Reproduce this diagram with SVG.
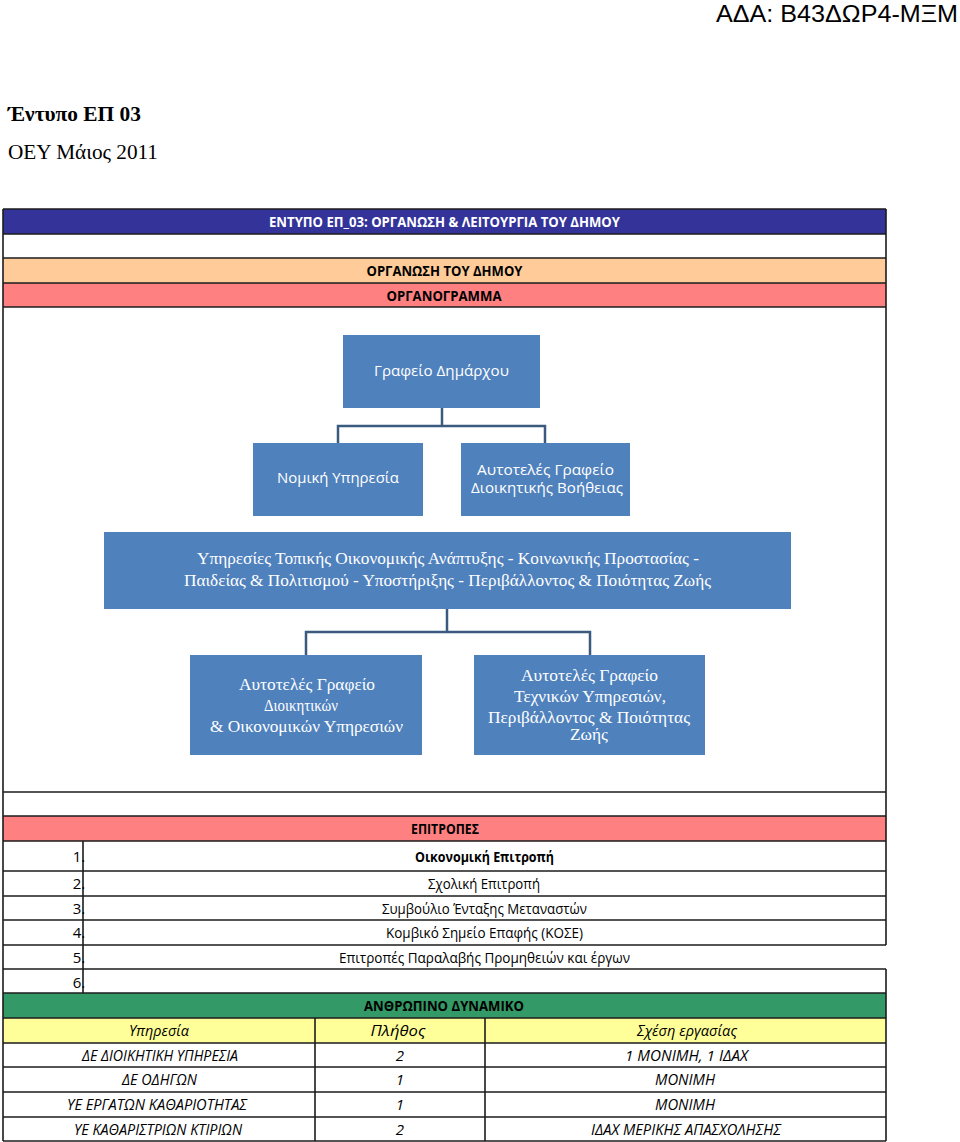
<svg xmlns="http://www.w3.org/2000/svg" width="960" height="1142" viewBox="0 0 960 1142">
<style>
.bg{fill:#ffffff}
.ln{stroke:#1c1c1c;stroke-width:1.6;fill:none}
.box{fill:#4f81bd}
.conn{stroke:#3a5a80;stroke-width:2.5;fill:none}
.ts{font-family:"Open Sans","Noto Sans","DejaVu Sans",sans-serif;font-size:15px;fill:#000;text-anchor:middle}
.tb{font-weight:bold}
.ti{font-style:italic}
.tw{fill:#ffffff}
.bs{font-family:"Open Sans","Noto Sans",sans-serif;font-size:15px;fill:#ffffff;text-anchor:middle}
.bsr{font-family:"Liberation Serif","DejaVu Serif",serif;font-size:16px;fill:#ffffff;text-anchor:middle}
.hd{font-family:"Liberation Serif","DejaVu Serif",serif;font-size:20px;fill:#000}
</style>
<rect class="bg" x="0" y="0" width="960" height="1142"/>

<!-- page headings -->
<g id="heading">
<text x="958" y="22" text-anchor="end" font-family="'Liberation Sans',Arial,sans-serif" font-size="24" fill="#000" textLength="242" lengthAdjust="spacingAndGlyphs">ΑΔΑ: Β43ΔΩΡ4-ΜΞΜ</text>
<text class="hd" x="8" y="121" font-weight="bold" textLength="133" lengthAdjust="spacingAndGlyphs">Έντυπο ΕΠ 03</text>
<text class="hd" x="8" y="159" textLength="150" lengthAdjust="spacingAndGlyphs">ΟΕΥ Μάιος 2011</text>
</g>

<!-- table bands -->
<g id="table">
<rect x="3" y="209" width="883" height="25" fill="#333399"/>
<rect x="3" y="258" width="883" height="25" fill="#ffcc99"/>
<rect x="3" y="283" width="883" height="24" fill="#ff8080"/>
<rect x="3" y="816" width="883" height="25" fill="#ff8080"/>
<rect x="3" y="993" width="883" height="25" fill="#339966"/>
<rect x="3" y="1018" width="883" height="25" fill="#ffff99"/>
<path class="ln" d="M3 209V1141M886 209V945M886 969V1141
M3 209H886M3 234H886M3 258H886M3 283H886M3 307H886
M3 792H886M3 816H886M3 841H886M3 871H886M3 896H886M3 920H886M3 945H886M3 969H886M3 993H886
M3 1018H886M3 1043H886M3 1067H886M3 1092H886M3 1117H886M3 1141H886
M83 841V993M315 1018V1141M485 1018V1141"/>
<text class="ts tb tw" x="444.5" y="227" textLength="351" lengthAdjust="spacingAndGlyphs">ΕΝΤΥΠΟ ΕΠ_03: ΟΡΓΑΝΩΣΗ &amp; ΛΕΙΤΟΥΡΓΙΑ ΤΟΥ ΔΗΜΟΥ</text>
<text class="ts tb" x="444.5" y="276" textLength="156" lengthAdjust="spacingAndGlyphs">ΟΡΓΑΝΩΣΗ ΤΟΥ ΔΗΜΟΥ</text>
<text class="ts tb" x="444" y="301" textLength="115" lengthAdjust="spacingAndGlyphs">ΟΡΓΑΝΟΓΡΑΜΜΑ</text>
<text class="ts tb" x="445" y="834" textLength="68" lengthAdjust="spacingAndGlyphs">ΕΠΙΤΡΟΠΕΣ</text>
</g>

<g id="committees">
<text class="ts" x="79" y="862" text-anchor="end">1.</text>
<text class="ts" x="79" y="889" text-anchor="end">2.</text>
<text class="ts" x="79" y="914" text-anchor="end">3.</text>
<text class="ts" x="79" y="938" text-anchor="end">4.</text>
<text class="ts" x="79" y="963" text-anchor="end">5.</text>
<text class="ts" x="79" y="988" text-anchor="end">6.</text>
<text class="ts tb" x="484.5" y="862" textLength="139" lengthAdjust="spacingAndGlyphs">Οικονομική Επιτροπή</text>
<text class="ts" x="484" y="889" textLength="112" lengthAdjust="spacingAndGlyphs">Σχολική Επιτροπή</text>
<text class="ts" x="484.5" y="914" textLength="205" lengthAdjust="spacingAndGlyphs">Συμβούλιο Ένταξης Μεταναστών</text>
<text class="ts" x="484.5" y="938" textLength="197" lengthAdjust="spacingAndGlyphs">Κομβικό Σημείο Επαφής (ΚΟΣΕ)</text>
<text class="ts" x="484.5" y="963" textLength="291" lengthAdjust="spacingAndGlyphs">Επιτροπές Παραλαβής Προμηθειών και έργων</text>
</g>

<g id="staff">
<text class="ts tb" x="444" y="1011" textLength="160" lengthAdjust="spacingAndGlyphs">ΑΝΘΡΩΠΙΝΟ ΔΥΝΑΜΙΚΟ</text>
<text class="ts ti" x="159" y="1036" textLength="60" lengthAdjust="spacingAndGlyphs">Υπηρεσία</text>
<text class="ts ti" x="398" y="1036" textLength="55" lengthAdjust="spacingAndGlyphs">Πλήθος</text>
<text class="ts ti" x="687" y="1036" textLength="100" lengthAdjust="spacingAndGlyphs">Σχέση εργασίας</text>
<text class="ts ti" x="160" y="1061" textLength="156" lengthAdjust="spacingAndGlyphs">ΔΕ ΔΙΟΙΚΗΤΙΚΗ ΥΠΗΡΕΣΙΑ</text>
<text class="ts ti" x="400" y="1061">2</text>
<text class="ts ti" x="686.5" y="1061" textLength="123" lengthAdjust="spacingAndGlyphs">1 ΜΟΝΙΜΗ, 1  ΙΔΑΧ</text>
<text class="ts ti" x="159.5" y="1085" textLength="75" lengthAdjust="spacingAndGlyphs">ΔΕ ΟΔΗΓΩΝ</text>
<text class="ts ti" x="400" y="1085">1</text>
<text class="ts ti" x="685" y="1085" textLength="60" lengthAdjust="spacingAndGlyphs">ΜΟΝΙΜΗ</text>
<text class="ts ti" x="157" y="1110" textLength="180" lengthAdjust="spacingAndGlyphs">ΥΕ ΕΡΓΑΤΩΝ ΚΑΘΑΡΙΟΤΗΤΑΣ</text>
<text class="ts ti" x="400" y="1110">1</text>
<text class="ts ti" x="685" y="1110" textLength="60" lengthAdjust="spacingAndGlyphs">ΜΟΝΙΜΗ</text>
<text class="ts ti" x="158" y="1135" textLength="168" lengthAdjust="spacingAndGlyphs">ΥΕ ΚΑΘΑΡΙΣΤΡΙΩΝ ΚΤΙΡΙΩΝ</text>
<text class="ts ti" x="400" y="1135">2</text>
<text class="ts ti" x="686" y="1135" textLength="190" lengthAdjust="spacingAndGlyphs">ΙΔΑΧ ΜΕΡΙΚΗΣ ΑΠΑΣΧΟΛΗΣΗΣ</text>
</g>

<!-- connectors -->
<g id="connectors">
<path class="conn" d="M442 408V426M338 443V426H545V443"/>
<path class="conn" d="M447 609V632M306 655V632H590V655"/>
</g>

<!-- org chart nodes -->
<g id="node-mayor">
<rect class="box" x="343" y="335" width="197" height="73"/>
<text class="bs" x="441.5" y="376" textLength="135" lengthAdjust="spacingAndGlyphs">Γραφείο Δημάρχου</text>
</g>
<g id="node-legal">
<rect class="box" x="253" y="443" width="170" height="73"/>
<text class="bs" x="338" y="483" textLength="122" lengthAdjust="spacingAndGlyphs">Νομική Υπηρεσία</text>
</g>
<g id="node-admin-support">
<rect class="box" x="461" y="443" width="169" height="73"/>
<text class="bs" x="545.5" y="475" textLength="137" lengthAdjust="spacingAndGlyphs">Αυτοτελές Γραφείο</text>
<text class="bs" x="547" y="493" textLength="152" lengthAdjust="spacingAndGlyphs">Διοικητικής Βοήθειας</text>
</g>
<g id="node-services">
<rect class="box" x="104" y="532" width="687" height="77"/>
<text class="bsr" x="448" y="564" textLength="502" lengthAdjust="spacingAndGlyphs">Υπηρεσίες Τοπικής Οικονομικής  Ανάπτυξης - Κοινωνικής Προστασίας -</text>
<text class="bsr" x="447.5" y="586" textLength="527" lengthAdjust="spacingAndGlyphs">Παιδείας &amp; Πολιτισμού - Υποστήριξης - Περιβάλλοντος &amp; Ποιότητας Ζωής</text>
</g>
<g id="node-admin-finance">
<rect class="box" x="190" y="655" width="232" height="100"/>
<text class="bsr" x="307" y="690" textLength="136" lengthAdjust="spacingAndGlyphs">Αυτοτελές Γραφείο</text>
<text class="bsr" x="301" y="711" textLength="74" lengthAdjust="spacingAndGlyphs">Διοικητικών</text>
<text class="bsr" x="306.5" y="732" textLength="193" lengthAdjust="spacingAndGlyphs">&amp; Οικονομικών Υπηρεσιών</text>
</g>
<g id="node-technical">
<rect class="box" x="474" y="655" width="231" height="100"/>
<text class="bsr" x="589.5" y="681" textLength="137" lengthAdjust="spacingAndGlyphs">Αυτοτελές Γραφείο</text>
<text class="bsr" x="590" y="702" textLength="152" lengthAdjust="spacingAndGlyphs">Τεχνικών Υπηρεσιών,</text>
<text class="bsr" x="589" y="723" textLength="202" lengthAdjust="spacingAndGlyphs">Περιβάλλοντος &amp; Ποιότητας</text>
<text class="bsr" x="589" y="740" textLength="38" lengthAdjust="spacingAndGlyphs">Ζωής</text>
</g>
</svg>
